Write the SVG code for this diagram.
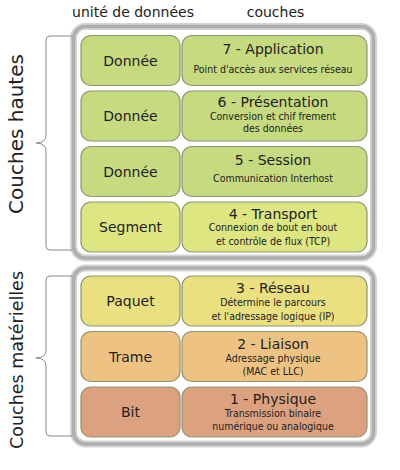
<svg xmlns="http://www.w3.org/2000/svg" width="400" height="470" viewBox="0 0 400 470">
<style>
text{font-family:"DejaVu Sans","Liberation Sans",sans-serif;fill:#222;text-anchor:middle}
.h{font-size:14px}
.side1{font-size:20px}
.side2{font-size:17.5px}
.u{font-size:14px}
.t{font-size:14px}
.s{font-family:"DejaVu Sans Condensed","DejaVu Sans",sans-serif;font-stretch:condensed;font-size:10.5px}
.cell{stroke:#8f9470;stroke-width:1.2}
.frameo{fill:#fff;stroke:#d4d4d4;stroke-width:7}
.framei{fill:none;stroke:#aeaeae;stroke-width:3.5}
.brace{fill:none;stroke:#8a8a8a;stroke-width:1}
.g{fill:#c6da80}
.tr{fill:#dde680}
.re{fill:#ebe080}
.li{fill:#eec282}
.ph{fill:#dca17f}
</style>
<rect width="400" height="470" fill="#fff"/>
<g id="headers">
<text class="h" x="133" y="17">unité de données</text>
<text class="h" x="275.5" y="17">couches</text>
</g>
<g id="frames">
<rect class="frameo" x="73.5" y="26.5" width="300" height="231.5" rx="12"/>
<rect class="framei" x="73.5" y="26.5" width="300" height="231.5" rx="12"/>
<rect class="frameo" x="73.5" y="268" width="300" height="176" rx="12"/>
<rect class="framei" x="73.5" y="268" width="300" height="176" rx="12"/>
</g>
<g id="connectors">
<path class="brace" d="M72,36 H50 Q46,36 46,40 V135 Q46,143 36,143 Q46,143 46,151 V246 Q46,250 50,250 H72"/>
<path class="brace" d="M72,276 H50 Q46,276 46,280 V350 Q46,358 36,358 Q46,358 46,366 V432 Q46,436 50,436 H72"/>
</g>
<g id="label-hautes"><text class="side1" transform="translate(23,134) rotate(-90)">Couches hautes</text></g>
<g id="label-materielles"><text class="side2" transform="translate(22.5,360) rotate(-90)">Couches matérielles</text></g>
<g id="unit7"><rect class="cell g" x="81" y="35.5" width="99" height="50" rx="10"/><text class="u" x="130.5" y="65.5">Donnée</text></g>
<g id="layer7"><rect class="cell g" x="182" y="35.5" width="185" height="50" rx="10"/><text class="t" x="273" y="53.5">7 - Application</text><text class="s" x="273" y="72.5">Point d'accès aux services réseau</text></g>
<g id="unit6"><rect class="cell g" x="81" y="91" width="99" height="50" rx="10"/><text class="u" x="130.5" y="121">Donnée</text></g>
<g id="layer6"><rect class="cell g" x="182" y="91" width="185" height="50" rx="10"/><text class="t" x="273" y="107">6 - Présentation</text><text class="s" x="273" y="119.5">Conversion et chif frement</text><text class="s" x="273" y="132">des données</text></g>
<g id="unit5"><rect class="cell g" x="81" y="146.5" width="99" height="50" rx="10"/><text class="u" x="130.5" y="176.5">Donnée</text></g>
<g id="layer5"><rect class="cell g" x="182" y="146.5" width="185" height="50" rx="10"/><text class="t" x="273" y="165">5 - Session</text><text class="s" x="273" y="182">Communication Interhost</text></g>
<g id="unit4"><rect class="cell tr" x="81" y="202" width="99" height="50" rx="10"/><text class="u" x="130.5" y="232">Segment</text></g>
<g id="layer4"><rect class="cell tr" x="182" y="202" width="185" height="50" rx="10"/><text class="t" x="273" y="218.5">4 - Transport</text><text class="s" x="273" y="231">Connexion de bout en bout</text><text class="s" x="273" y="245">et contrôle de flux (TCP)</text></g>
<g id="unit3"><rect class="cell re" x="81" y="276" width="99" height="50" rx="10"/><text class="u" x="130.5" y="306">Paquet</text></g>
<g id="layer3"><rect class="cell re" x="182" y="276" width="185" height="50" rx="10"/><text class="t" x="273" y="292.5">3 - Réseau</text><text class="s" x="273" y="306">Détermine le parcours</text><text class="s" x="273" y="319.5">et l'adressage logique (IP)</text></g>
<g id="unit2"><rect class="cell li" x="81" y="331.5" width="99" height="50" rx="10"/><text class="u" x="130.5" y="361.5">Trame</text></g>
<g id="layer2"><rect class="cell li" x="182" y="331.5" width="185" height="50" rx="10"/><text class="t" x="273" y="348.5">2 - Liaison</text><text class="s" x="273" y="362">Adressage physique</text><text class="s" x="273" y="375">(MAC et LLC)</text></g>
<g id="unit1"><rect class="cell ph" x="81" y="387" width="99" height="50" rx="10"/><text class="u" x="130.5" y="417">Bit</text></g>
<g id="layer1"><rect class="cell ph" x="182" y="387" width="185" height="50" rx="10"/><text class="t" x="273" y="403.5">1 - Physique</text><text class="s" x="273" y="417">Transmission binaire</text><text class="s" x="273" y="429.5">numérique ou analogique</text></g>
</svg>
